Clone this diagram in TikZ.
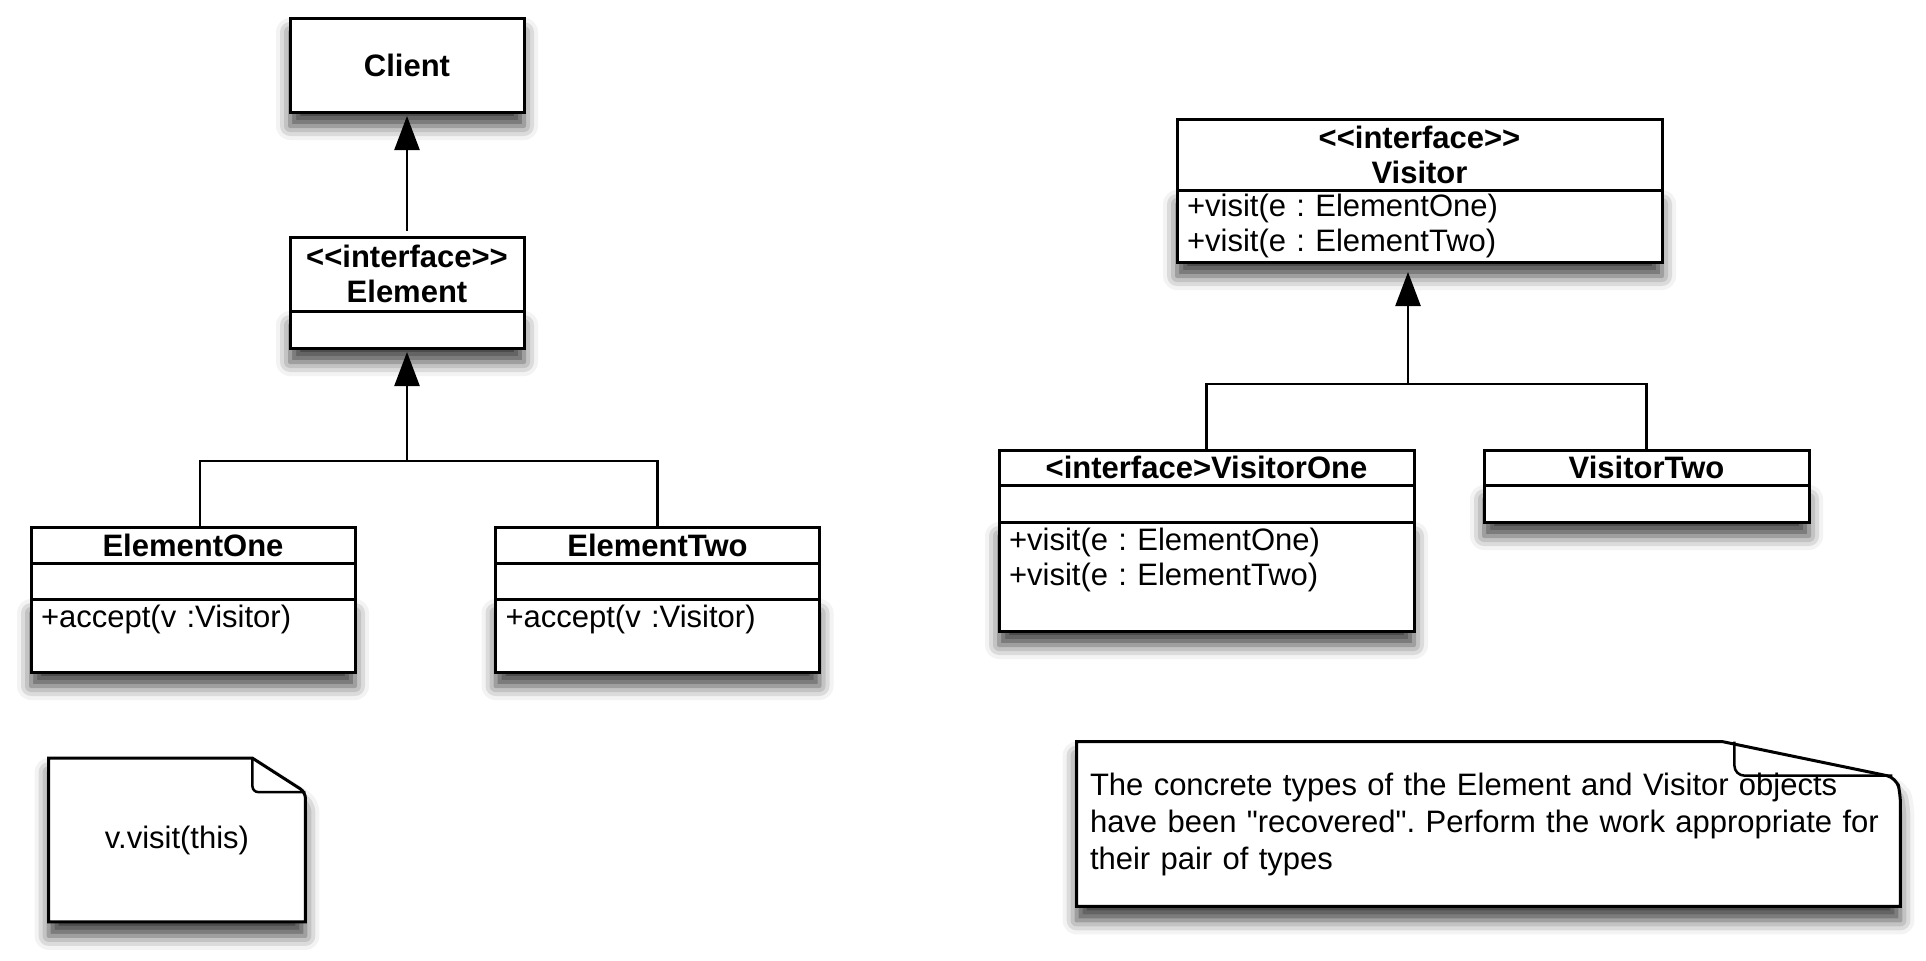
\documentclass[tikz,border=0pt]{standalone}
\usepackage{fontspec}
\setmainfont{Liberation Sans}[Ligatures=TeXOff]
\usetikzlibrary{arrows.meta,positioning,backgrounds,shadows.blur}
\frenchspacing

\begin{document}
\begin{tikzpicture}[x=0.5pt, y=-0.5pt,
  font=\fontsize{15.5pt}{17.5pt}\selectfont,
  box/.style={draw, line width=1.5pt, fill=white, inner sep=2pt, outer sep=0pt, align=center},
  body/.style={box, align=left, inner xsep=5pt},
  boxshadow/.style={blur shadow={shadow xshift=0pt, shadow yshift=-7pt, shadow blur radius=7pt, shadow opacity=75}},
  notebox/.style={draw, line width=1.5pt, fill=white, boxshadow},
  link/.style={line width=1.25pt},
  inh/.style={link, -{Triangle[width=12.5pt, length=17pt]}, shorten >=2pt}]
\useasboundingbox (0,0) rectangle (1926,960);
% client and the element interface
\node[box, boxshadow, minimum width=117pt, minimum height=47pt] (client) at (407,65) {\textbf{Client}};
\node[box, minimum width=117pt, minimum height=37pt] (elem) at (407,274)
  {\textbf{<<interface>>}\\\textbf{Element}};
\node[box, boxshadow, minimum width=117pt, minimum height=18.5pt, below=0pt of elem] (elemattr) {};
% concrete elements
\node[box, minimum width=162pt, minimum height=18pt] (eone) at (193,545) {\textbf{ElementOne}};
\node[box, minimum width=162pt, minimum height=18pt, below=0pt of eone] (eoneattr) {};
\node[body, boxshadow, text width=152pt, text height=12pt, text depth=20.5pt, below=0pt of eoneattr] (eonemeth)
  {+accept(v :Visitor)};
\node[box, minimum width=162pt, minimum height=18pt] (etwo) at (657.5,545) {\textbf{ElementTwo}};
\node[box, minimum width=162pt, minimum height=18pt, below=0pt of etwo] (etwoattr) {};
\node[body, boxshadow, text width=152pt, text height=12pt, text depth=20.5pt, below=0pt of etwoattr] (etwometh)
  {+accept(v :Visitor)};
% visitor interface
\node[box, minimum width=242.5pt, minimum height=35.5pt] (vis) at (1419.5,154.5)
  {\textbf{<<interface>>}\\\textbf{Visitor}};
\node[body, boxshadow, text width=232.5pt, minimum height=36pt, below=0pt of vis] (vismeth)
  {+visit(e : ElementOne)\\+visit(e : ElementTwo)};
% concrete visitors
\node[box, minimum width=207.5pt, minimum height=17.5pt] (vone) at (1206.5,467.5)
  {\textbf{<interface>VisitorOne}};
\node[box, minimum width=207.5pt, minimum height=18.5pt, below=0pt of vone] (voneattr) {};
\node[body, boxshadow, text width=197.5pt, text height=12pt, text depth=38.5pt, below=0pt of voneattr] (vonemeth)
  {+visit(e : ElementOne)\\+visit(e : ElementTwo)};
\node[box, minimum width=162.5pt, minimum height=17.5pt] (vtwo) at (1646.5,467.5) {\textbf{VisitorTwo}};
\node[box, boxshadow, minimum width=162.5pt, minimum height=18.5pt, below=0pt of vtwo] (vtwoattr) {};
% notes
\node[minimum width=128pt, minimum height=81.5pt] (note1) at (177,840) {v.visit(this)};
\node[minimum width=411.5pt, minimum height=82pt, text width=398.5pt, align=left] (note2) at (1488.5,824)
  {The concrete types of the Element and Visitor objects\\[1pt]
   have been "recovered". Perform the work appropriate for\\[1pt]
   their pair of types};
\begin{scope}[on background layer]
\path[notebox] (note1.north west) -- ([xshift=-26.5pt]note1.north east)
  [rounded corners=3pt] -- ([yshift=-17pt]note1.north east) [sharp corners]
  -- (note1.south east) -- (note1.south west) -- cycle;
\path[notebox] (note2.north west) -- ([xshift=-89pt]note2.north east)
  [rounded corners=5pt] -- ([xshift=-2pt,yshift=-18pt]note2.north east)
  -- ([yshift=-26pt]note2.north east) [sharp corners]
  -- (note2.south east) -- (note2.south west) -- cycle;
\end{scope}
\draw[link, rounded corners=3pt] ([xshift=-26.5pt]note1.north east) |- ([yshift=-17pt]note1.north east);
\draw[link, rounded corners=5pt] ([xshift=-83pt]note2.north east) |- ([xshift=-4pt,yshift=-17pt]note2.north east);
% inheritance
\coordinate (ebar) at (407,461);
\draw[link] ([xshift=3.5pt]eone.north) |- (etwo.north |- ebar) -- (etwo.north);
\draw[inh] (ebar) -- (elemattr.south);
\draw[inh, shorten <=3pt] (elem.north) -- (client.south);
\coordinate (vbar) at (1408,384);
\draw[link] (vone.north) |- (vtwo.north |- vbar) -- (vtwo.north);
\draw[inh, shorten >=5pt] (vbar) -- (vbar |- vismeth.south);
\end{tikzpicture}
\end{document}
